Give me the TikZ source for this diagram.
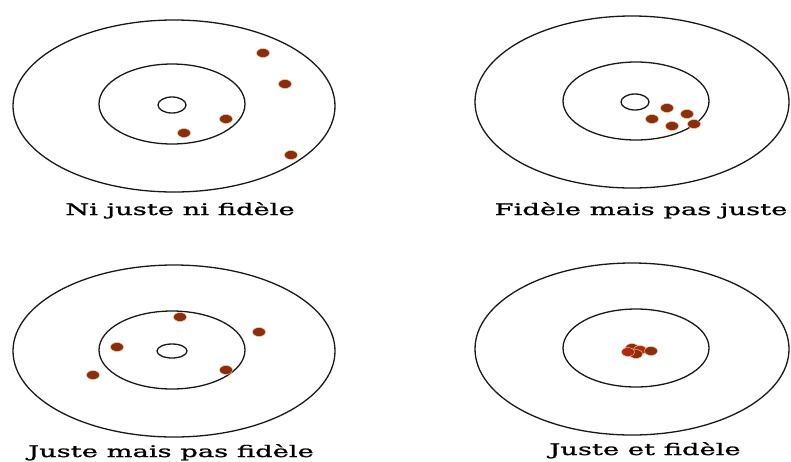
\documentclass[tikz,border=0pt]{standalone}
\usepackage{fontspec}
\setmainfont{DejaVu Serif}
\newfontfamily\lblfont{DejaVu Serif}[FakeStretch=1.71,FakeBold=1.2]
\usepackage{xcolor}
\usepackage{tikz}
\usetikzlibrary{positioning}
\definecolor{DotBrown}{HTML}{8A2E0E}
\definecolor{DotRed}{HTML}{B02A12}

\begin{document}
\begin{tikzpicture}[x=1pt,y=-1pt,
          ring/.style={draw=black!90,line width=1.3pt},
          dot/.style={fill=DotBrown,draw=orange!40,line width=0.4pt},
          lbl/.style={font=\lblfont\fontsize{16}{18}\selectfont,anchor=base,inner sep=0pt}]
        \useasboundingbox (0,0) rectangle (791,461);
        % cible 1 : ni juste ni fidele
        \draw[ring] (174,106) ellipse [x radius=161,y radius=86];
        \draw[ring] (172,104) ellipse [x radius=73,y radius=40];
        \draw[ring] (172,105) ellipse [x radius=14,y radius=8];
        \fill[dot] (263,53) ellipse [x radius=6.5,y radius=4.5];
        \fill[dot] (285,84) ellipse [x radius=6.5,y radius=4.5];
        \fill[dot] (226,119) ellipse [x radius=6.5,y radius=4.5];
        \fill[dot] (184,133) ellipse [x radius=6.5,y radius=4.5];
        \fill[dot] (291,155) ellipse [x radius=6.5,y radius=4.5];
        \node[lbl] (t1) at (180,215) {Ni juste ni fidèle};
        % cible 2 : fidele mais pas juste
        \draw[ring] (632,102) ellipse [x radius=157,y radius=86];
        \draw[ring] (636,101) ellipse [x radius=73,y radius=39];
        \draw[ring] (635,102) ellipse [x radius=14,y radius=8];
        \fill[dot] (667,108) ellipse [x radius=6.5,y radius=4.5];
        \fill[dot] (687,114) ellipse [x radius=6.5,y radius=4.5];
        \fill[dot] (652,119) ellipse [x radius=6.5,y radius=4.5];
        \fill[dot] (672,126) ellipse [x radius=6.5,y radius=4.5];
        \fill[dot] (694,124) ellipse [x radius=6.5,y radius=4.5];
        \node[lbl] (t2) at (641,215) {Fidèle mais pas juste};
        % cible 3 : juste mais pas fidele
        \draw[ring] (174,351) ellipse [x radius=161,y radius=86];
        \draw[ring] (172,350) ellipse [x radius=73,y radius=39];
        \draw[ring] (172,351) ellipse [x radius=15,y radius=7];
        \fill[dot] (180,317) ellipse [x radius=6.5,y radius=4.5];
        \fill[dot] (259,332) ellipse [x radius=6.5,y radius=4.5];
        \fill[dot] (117,347) ellipse [x radius=6.5,y radius=4.5];
        \fill[dot] (226,370) ellipse [x radius=6.5,y radius=4.5];
        \fill[dot] (93,375) ellipse [x radius=6.5,y radius=4.5];
        \node[lbl] (t3) at (171,457) {Juste mais pas fidèle};
        % cible 4 : juste et fidele
        \draw[ring] (632,349) ellipse [x radius=157,y radius=86];
        \draw[ring] (636,348) ellipse [x radius=73,y radius=39];
        \fill[dot] (632,348) ellipse [x radius=6.5,y radius=4.5];
        \fill[dot,fill=DotRed] (640,350) ellipse [x radius=6.5,y radius=4.5];
        \fill[dot] (636,354) ellipse [x radius=6.5,y radius=4.5];
        \fill[dot,fill=DotRed] (628,352) ellipse [x radius=6.5,y radius=4.5];
        \fill[dot] (651,351) ellipse [x radius=6.5,y radius=4.5];
        \node[lbl] (t4) at (645,455) {Juste et fidèle};
      \end{tikzpicture}
\end{document}
